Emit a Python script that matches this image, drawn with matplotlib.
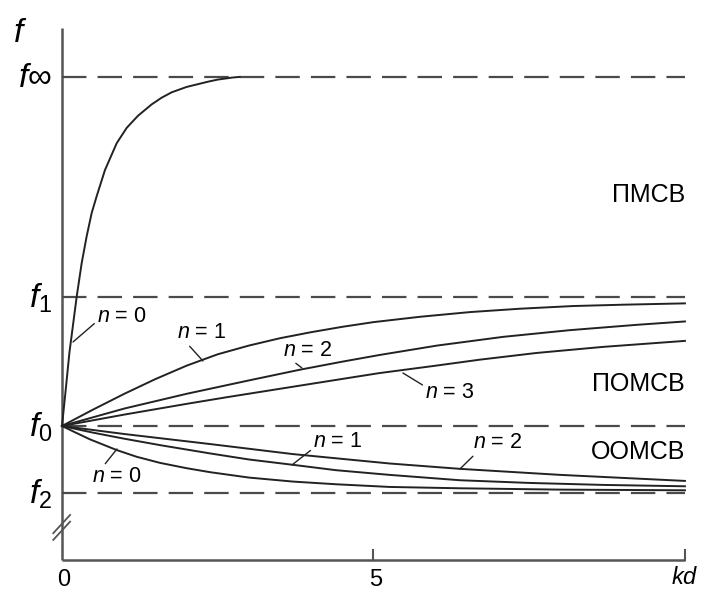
import matplotlib
matplotlib.use("Agg")
import matplotlib.pyplot as plt

# fonts: Arial-like text, italic f / n / kd
plt.rcParams["font.family"] = ["Liberation Sans", "DejaVu Sans"]
plt.rcParams["mathtext.fontset"] = "custom"
plt.rcParams["mathtext.it"] = "Liberation Sans:italic"
plt.rcParams["mathtext.rm"] = "Liberation Sans"

# ---- data (kd, f in plot units) ----
# characteristic levels
level_names = ["$f\\infty$", "$f_1$", "$f_0$", "$f_2$"]
level_values = [7.21, 3.925, 2.0, 1.0]

# upper curve (ПМСВ, n = 0)
pmsv_kd = [0, 0.05, 0.12, 0.236, 0.316, 0.396, 0.477, 0.557, 0.69, 0.878,
           1.039, 1.22, 1.44, 1.6, 1.76, 2.0, 2.13, 2.35, 2.5, 2.73, 2.85]
pmsv_f = [2.0, 2.45, 3.1, 3.93, 4.43, 4.83, 5.18, 5.43, 5.82, 6.22,
          6.45, 6.63, 6.80, 6.90, 6.98, 7.06, 7.09, 7.14, 7.17, 7.20, 7.21]

# ПОМСВ curves n = 1, 2, 3
pomsv1_kd = [0, 0.5, 1.0, 1.5, 2.0, 2.5, 3.0, 3.5, 4.0, 4.5, 5.0, 5.75, 6.55,
             7.35, 8.2, 9.0, 10.0]
pomsv1_f = [2.0, 2.245, 2.48, 2.70, 2.90, 3.07, 3.20, 3.31, 3.40, 3.48, 3.55,
            3.63, 3.70, 3.75, 3.79, 3.81, 3.83]

pomsv2_kd = [0, 1.0, 2.0, 3.0, 3.82, 4.5, 5.1, 6.02, 7.08, 8.15, 9.23, 10.0]
pomsv2_f = [2.0, 2.26, 2.48, 2.68, 2.84, 2.96, 3.06, 3.20, 3.33, 3.43, 3.51, 3.56]

pomsv3_kd = [0, 1.0, 2.0, 2.65, 3.6, 4.62, 5.1, 6.0, 6.71, 7.62, 8.68, 10.0]
pomsv3_f = [2.0, 2.17, 2.33, 2.43, 2.57, 2.72, 2.79, 2.90, 2.99, 3.09, 3.18, 3.27]

# ООМСВ curves n = 0, 1, 2
oomsv0_kd = [0, 0.2, 0.45, 0.88, 1.2, 1.57, 2.0, 2.38, 3.0, 3.71, 4.4, 5.26, 6.39, 8.0, 10.0]
oomsv0_f = [2.0, 1.91, 1.80, 1.64, 1.54, 1.45, 1.37, 1.31, 1.23, 1.17, 1.13, 1.09, 1.07, 1.05, 1.04]

oomsv1_kd = [0, 0.5, 1.0, 1.6, 2.38, 3.0, 3.71, 4.4, 5.26, 6.39, 7.5, 8.7, 10.0]
oomsv1_f = [2.0, 1.90, 1.81, 1.71, 1.59, 1.50, 1.42, 1.34, 1.27, 1.19, 1.15, 1.12, 1.10]

oomsv2_kd = [0, 1.0, 2.38, 3.71, 5.26, 6.39, 8.0, 10.0]
oomsv2_f = [2.0, 1.88, 1.73, 1.58, 1.44, 1.36, 1.27, 1.18]

region_names = ["ПМСВ", "ПОМСВ", "ООМСВ"]
x_tick_values = [0, 5]
x_tick_labels = ["0", "5"]

# ---- figure ----
fig = plt.figure(figsize=(7.03, 5.92), dpi=100)
ax = fig.add_axes([0, 0, 1, 1])
ax.set_xlim(-0.995, 10.29)
ax.set_ylim(-0.478, 8.358)
ax.axis("off")

axis_col = "#555555"
dash_col = "#4a4a4a"
curve_col = "#222222"

# axes drawn by hand (broken y axis)
ax.plot([0, 0], [0, 7.94], color=axis_col, lw=1.8, solid_capstyle="butt")
ax.plot([0, 10.0], [0, 0], color=axis_col, lw=1.8, solid_capstyle="butt")
for xt in [5, 10]:
    ax.plot([xt, xt], [0, 0.15], color=axis_col, lw=1.5)
# axis break marks
ax.plot([-0.14, 0.13], [0.40, 0.672], color=axis_col, lw=1.3)
ax.plot([-0.14, 0.13], [0.30, 0.572], color=axis_col, lw=1.3)

# dashed levels and their labels
for name, val in zip(level_names, level_values):
    ln, = ax.plot([0, 10.0], [val, val], color=dash_col, lw=1.6)
    ln.set_dashes([11, 5])
    ax.text(-0.16, val - 0.02, name, ha="right", va="center", fontsize=24)
ax.text(-0.67, 7.86, "$f$", ha="center", va="center", fontsize=24)

# curves
curves = [(pmsv_kd, pmsv_f), (pomsv1_kd, pomsv1_f), (pomsv2_kd, pomsv2_f),
          (pomsv3_kd, pomsv3_f), (oomsv0_kd, oomsv0_f), (oomsv1_kd, oomsv1_f),
          (oomsv2_kd, oomsv2_f)]
for kd, f in curves:
    ax.plot(kd, f, color=curve_col, lw=1.4)

# n labels with leader lines: (text, point on curve, text centre, leader start)
n_labels = [
    ("$n$ = 0", (0.177, 3.254), (0.963, 3.627), (0.0, 0.3)),
    ("$n$ = 1", (2.263, 2.970), (2.247, 3.388), (0.2, 0.0)),
    ("$n$ = 2", (3.852, 2.866), (3.949, 3.134), (0.18, 0.0)),
    ("$n$ = 3", (5.473, 2.791), (6.228, 2.493), (0.0, 0.8)),
    ("$n$ = 0", (0.883, 1.657), (0.883, 1.239), (0.22, 1.0)),
    ("$n$ = 1", (3.692, 1.418), (4.430, 1.761), (0.0, 0.2)),
    ("$n$ = 2", (6.388, 1.358), (6.998, 1.746), (0.05, 0.0)),
]
for txt, xy, xyt, rp in n_labels:
    ax.annotate(txt, xy=xy, xytext=xyt, ha="center", va="center", fontsize=15.5,
                arrowprops=dict(arrowstyle="-", color=curve_col, lw=1.0,
                                shrinkA=0, shrinkB=0, relpos=rp))

# region names
ax.text(10.0, 5.448, region_names[0], ha="right", va="center", fontsize=18)
ax.text(10.0, 2.627, region_names[1], ha="right", va="center", fontsize=18)
ax.text(10.0, 1.612, region_names[2], ha="right", va="center", fontsize=18)

# x tick labels
for xv, lab in zip(x_tick_values, x_tick_labels):
    ax.text(xv + 0.03, -0.30, lab, ha="center", va="center", fontsize=17)
ax.text(10.0, -0.27, "$kd$", ha="center", va="center", fontsize=17)

fig.savefig("out.png", dpi=100)
